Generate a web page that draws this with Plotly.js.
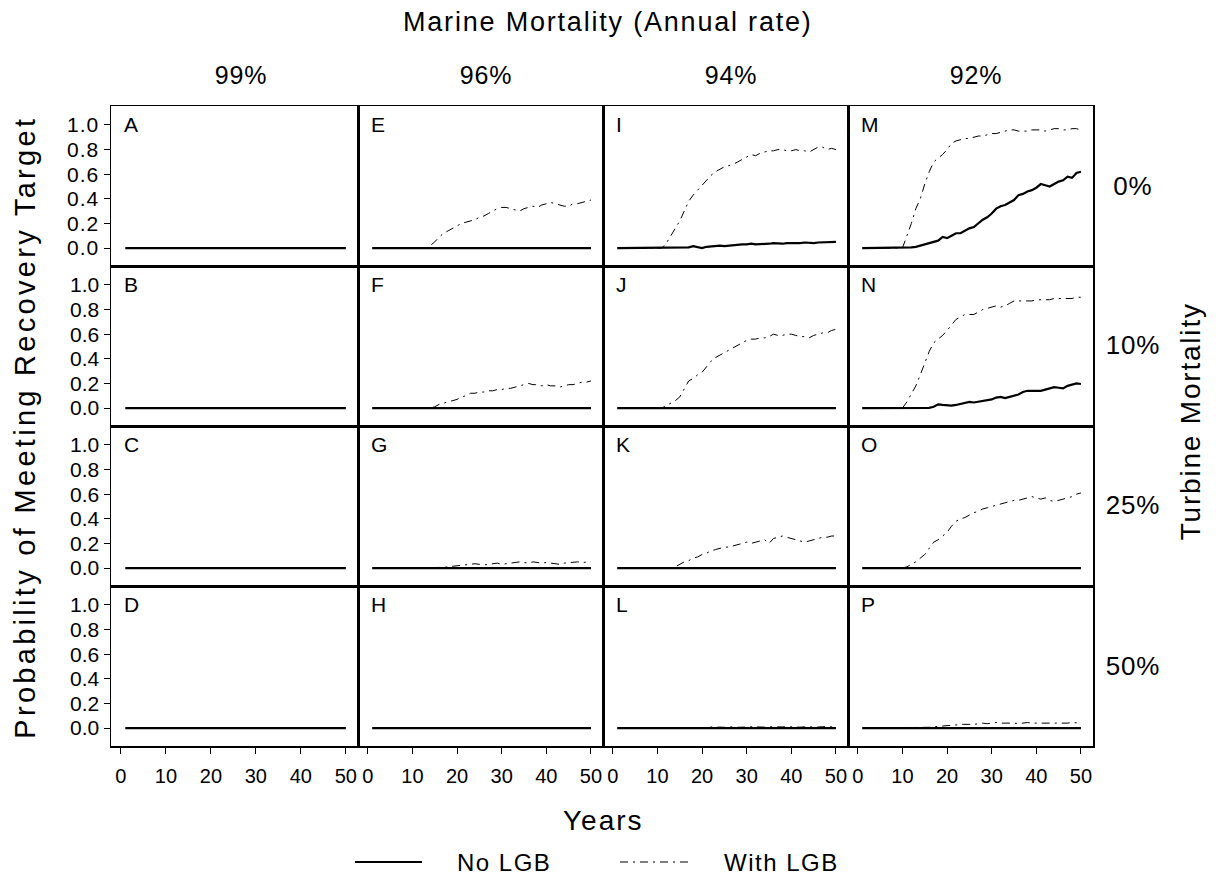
<!DOCTYPE html>
<html><head><meta charset="utf-8">
<script src="https://cdn.plot.ly/plotly-3.0.1.min.js"></script>
<style>html,body{margin:0;padding:0;background:#fff}</style>
</head><body><div id="chart" style="width:1216px;height:886px"></div>
<script>
// ---------------- DATA ----------------
const years = [1,2,3,4,5,6,7,8,9,10,11,12,13,14,15,16,17,18,19,20,21,22,23,24,25,26,27,28,29,30,31,32,33,34,35,36,37,38,39,40,41,42,43,44,45,46,47,48,49,50];
const marineRates = ["99%","96%","94%","92%"];
const turbineRates = ["0%","10%","25%","50%"];
const panelLetters = ["A","B","C","D","E","F","G","H","I","J","K","L","M","N","O","P"];
const xTickVals = [0,10,20,30,40,50];
const yTickVals = [0,0.2,0.4,0.6,0.8,1.0];
const seriesNames = ["No LGB","With LGB"];

const noLGB_A = [0,0,0,0,0,0,0,0,0,0, 0,0,0,0,0,0,0,0,0,0, 0,0,0,0,0,0,0,0,0,0, 0,0,0,0,0,0,0,0,0,0, 0,0,0,0,0,0,0,0,0,0];
const withLGB_A = [0,0,0,0,0,0,0,0,0,0, 0,0,0,0,0,0,0,0,0,0, 0,0,0,0,0,0,0,0,0,0, 0,0,0,0,0,0,0,0,0,0, 0,0,0,0,0,0,0,0,0,0];
const noLGB_B = [0,0,0,0,0,0,0,0,0,0, 0,0,0,0,0,0,0,0,0,0, 0,0,0,0,0,0,0,0,0,0, 0,0,0,0,0,0,0,0,0,0, 0,0,0,0,0,0,0,0,0,0];
const withLGB_B = [0,0,0,0,0,0,0,0,0,0, 0,0,0,0,0,0,0,0,0,0, 0,0,0,0,0,0,0,0,0,0, 0,0,0,0,0,0,0,0,0,0, 0,0,0,0,0,0,0,0,0,0];
const noLGB_C = [0,0,0,0,0,0,0,0,0,0, 0,0,0,0,0,0,0,0,0,0, 0,0,0,0,0,0,0,0,0,0, 0,0,0,0,0,0,0,0,0,0, 0,0,0,0,0,0,0,0,0,0];
const withLGB_C = [0,0,0,0,0,0,0,0,0,0, 0,0,0,0,0,0,0,0,0,0, 0,0,0,0,0,0,0,0,0,0, 0,0,0,0,0,0,0,0,0,0, 0,0,0,0,0,0,0,0,0,0];
const noLGB_D = [0,0,0,0,0,0,0,0,0,0, 0,0,0,0,0,0,0,0,0,0, 0,0,0,0,0,0,0,0,0,0, 0,0,0,0,0,0,0,0,0,0, 0,0,0,0,0,0,0,0,0,0];
const withLGB_D = [0,0,0,0,0,0,0,0,0,0, 0,0,0,0,0,0,0,0,0,0, 0,0,0,0,0,0,0,0,0,0, 0,0,0,0,0,0,0,0,0,0, 0,0,0,0,0,0,0,0,0,0];

const noLGB_E = [0,0,0,0,0,0,0,0,0,0, 0,0,0,0,0,0,0,0,0,0, 0,0,0,0,0,0,0,0,0,0, 0,0,0,0,0,0,0,0,0,0, 0,0,0,0,0,0,0,0,0,0];
const withLGB_E = [0,0,0,0,0,0,0,0,0,0, 0,0,0,0.02,0.05,0.09,0.12,0.14,0.16,0.18, 0.2,0.21,0.22,0.23,0.25,0.26,0.28,0.3,0.32,0.33, 0.33,0.32,0.31,0.3,0.32,0.33,0.34,0.33,0.35,0.36, 0.37,0.36,0.35,0.34,0.34,0.36,0.36,0.37,0.38,0.39];
const noLGB_F = [0,0,0,0,0,0,0,0,0,0, 0,0,0,0,0,0,0,0,0,0, 0,0,0,0,0,0,0,0,0,0, 0,0,0,0,0,0,0,0,0,0, 0,0,0,0,0,0,0,0,0,0];
const withLGB_F = [0,0,0,0,0,0,0,0,0,0, 0,0,0,0,0.01,0.03,0.04,0.05,0.06,0.07, 0.09,0.1,0.12,0.12,0.13,0.13,0.14,0.14,0.15,0.15, 0.16,0.16,0.17,0.18,0.19,0.2,0.19,0.19,0.18,0.19, 0.18,0.18,0.17,0.18,0.19,0.19,0.2,0.21,0.21,0.22];
const noLGB_G = [0,0,0,0,0,0,0,0,0,0, 0,0,0,0,0,0,0,0,0,0, 0,0,0,0,0,0,0,0,0,0, 0,0,0,0,0,0,0,0,0,0, 0,0,0,0,0,0,0,0,0,0];
const withLGB_G = [0,0,0,0,0,0,0,0,0,0, 0,0,0,0,0,0,0.005,0.01,0.015,0.02, 0.025,0.03,0.03,0.035,0.03,0.025,0.03,0.035,0.04,0.03, 0.035,0.04,0.045,0.05,0.045,0.04,0.05,0.045,0.04,0.045, 0.04,0.035,0.03,0.04,0.045,0.05,0.05,0.045,0.05,0.05];
const noLGB_H = [0,0,0,0,0,0,0,0,0,0, 0,0,0,0,0,0,0,0,0,0, 0,0,0,0,0,0,0,0,0,0, 0,0,0,0,0,0,0,0,0,0, 0,0,0,0,0,0,0,0,0,0];
const withLGB_H = [0,0,0,0,0,0,0,0,0,0, 0,0,0,0,0,0,0,0,0,0, 0,0,0,0,0,0,0,0,0,0, 0,0,0,0,0,0,0,0,0,0, 0,0,0,0,0,0,0,0,0,0];

const noLGB_I = [0,0,0,0,0,0,0,0,0,0, 0,0,0,0,0,0,0.005,0.015,0.01,0, 0.01,0.015,0.015,0.02,0.015,0.02,0.025,0.025,0.03,0.03, 0.035,0.03,0.03,0.035,0.035,0.04,0.035,0.035,0.04,0.04, 0.035,0.04,0.045,0.04,0.04,0.045,0.045,0.05,0.05,0.05];
const withLGB_I = [0,0,0,0,0,0,0,0,0,0, 0,0.04,0.1,0.16,0.22,0.3,0.38,0.43,0.47,0.51, 0.55,0.59,0.62,0.64,0.66,0.67,0.68,0.7,0.72,0.74, 0.76,0.75,0.77,0.78,0.79,0.79,0.8,0.8,0.79,0.79, 0.8,0.79,0.79,0.78,0.8,0.82,0.82,0.8,0.81,0.8];
const noLGB_J = [0,0,0,0,0,0,0,0,0,0, 0,0,0,0,0,0,0,0,0,0, 0.004,0.005,0.003,0,0.004,0.005,0.003,0,0,0, 0,0,0,0,0,0,0,0,0,0, 0,0,0,0,0,0,0,0,0,0];
const withLGB_J = [0,0,0,0,0,0,0,0,0,0, 0,0.02,0.04,0.06,0.09,0.15,0.22,0.24,0.27,0.29, 0.34,0.38,0.41,0.43,0.45,0.47,0.49,0.51,0.53,0.55, 0.56,0.56,0.57,0.57,0.58,0.6,0.59,0.59,0.6,0.6, 0.59,0.58,0.58,0.57,0.59,0.6,0.61,0.61,0.63,0.64];
const noLGB_K = [0,0,0,0,0,0,0,0,0,0, 0,0,0,0,0,0,0,0,0,0, 0,0,0,0,0,0,0,0,0,0, 0,0,0,0,0,0,0,0,0,0, 0,0,0,0,0,0,0,0,0,0];
const withLGB_K = [0,0,0,0,0,0,0,0,0,0, 0,0,0,0.01,0.03,0.05,0.06,0.08,0.09,0.11, 0.12,0.14,0.15,0.16,0.17,0.17,0.18,0.19,0.2,0.21, 0.2,0.21,0.22,0.23,0.2,0.24,0.25,0.26,0.25,0.24, 0.23,0.22,0.21,0.22,0.23,0.24,0.25,0.25,0.26,0.26];
const noLGB_L = [0,0,0,0,0,0,0,0,0,0, 0,0,0,0,0,0,0,0,0,0, 0,0,0,0,0,0,0,0,0,0, 0,0,0,0,0,0,0,0,0,0, 0,0,0,0,0,0,0,0,0,0];
const withLGB_L = [0,0,0,0,0,0,0,0,0,0, 0,0,0,0,0,0,0,0,0,0, 0.004,0.008,0.01,0.007,0.006,0.009,0.01,0.006,0.005,0.008, 0.011,0.009,0.006,0.007,0.01,0.008,0.005,0.009,0.011,0.008, 0.006,0.007,0.01,0.009,0.006,0.008,0.011,0.009,0.01,0.009];

const noLGB_M = [0,0,0,0,0,0,0,0,0,0, 0.002,0.005,0.01,0.02,0.025,0.035,0.045,0.06,0.09,0.08, 0.1,0.12,0.12,0.14,0.16,0.17,0.2,0.23,0.25,0.28, 0.32,0.34,0.35,0.37,0.39,0.43,0.44,0.46,0.47,0.49, 0.52,0.51,0.5,0.52,0.54,0.55,0.58,0.57,0.61,0.62];
const withLGB_M = [0,0,0,0,0,0,0,0,0,0, 0.1,0.2,0.32,0.4,0.52,0.62,0.7,0.73,0.76,0.8, 0.85,0.87,0.88,0.89,0.89,0.9,0.91,0.91,0.92,0.93, 0.93,0.94,0.95,0.96,0.96,0.95,0.95,0.95,0.96,0.96, 0.96,0.95,0.96,0.97,0.97,0.96,0.96,0.97,0.97,0.96];
const noLGB_N = [0,0,0,0,0,0,0,0,0,0, 0,0,0,0,0,0.002,0.01,0.03,0.025,0.02, 0.02,0.025,0.035,0.045,0.05,0.045,0.05,0.06,0.065,0.07, 0.085,0.09,0.08,0.09,0.095,0.11,0.13,0.14,0.14,0.14, 0.14,0.15,0.16,0.17,0.165,0.16,0.18,0.19,0.2,0.195];
const withLGB_N = [0,0,0,0,0,0,0,0,0,0, 0.05,0.11,0.18,0.27,0.36,0.46,0.53,0.56,0.59,0.63, 0.68,0.72,0.74,0.76,0.76,0.76,0.78,0.8,0.81,0.82, 0.83,0.82,0.83,0.85,0.87,0.87,0.87,0.87,0.87,0.88, 0.88,0.88,0.88,0.89,0.89,0.89,0.89,0.89,0.9,0.9];
const noLGB_O = [0,0,0,0,0,0,0,0,0,0, 0,0,0,0,0,0,0,0,0,0, 0.003,0.006,0.004,0,0,0,0.004,0.006,0.005,0.002, 0,0.004,0.005,0.003,0,0,0,0,0,0, 0,0,0,0,0,0,0,0,0,0];
const withLGB_O = [0,0,0,0,0,0,0,0,0,0, 0.01,0.03,0.05,0.08,0.11,0.16,0.21,0.23,0.26,0.29, 0.34,0.38,0.4,0.41,0.43,0.45,0.46,0.48,0.49,0.5, 0.51,0.52,0.53,0.54,0.55,0.55,0.56,0.57,0.58,0.57, 0.56,0.57,0.55,0.54,0.55,0.56,0.57,0.58,0.6,0.61];
const noLGB_P = [0,0,0,0,0,0,0,0,0,0, 0,0,0,0,0,0,0,0,0,0, 0,0,0,0,0,0,0,0,0,0, 0,0,0,0,0,0,0,0,0,0, 0,0,0,0,0,0,0,0,0,0];
const withLGB_P = [0,0,0,0,0,0,0,0,0,0, 0,0,0,0,0.003,0.006,0.01,0.012,0.015,0.02, 0.02,0.025,0.03,0.03,0.025,0.03,0.035,0.04,0.035,0.04, 0.045,0.04,0.04,0.045,0.04,0.035,0.04,0.045,0.04,0.04, 0.035,0.035,0.04,0.035,0.035,0.04,0.04,0.045,0.04,0.04];

const noLGB = [noLGB_A,noLGB_B,noLGB_C,noLGB_D,noLGB_E,noLGB_F,noLGB_G,noLGB_H,noLGB_I,noLGB_J,noLGB_K,noLGB_L,noLGB_M,noLGB_N,noLGB_O,noLGB_P];
const withLGB = [withLGB_A,withLGB_B,withLGB_C,withLGB_D,withLGB_E,withLGB_F,withLGB_G,withLGB_H,withLGB_I,withLGB_J,withLGB_K,withLGB_L,withLGB_M,withLGB_N,withLGB_O,withLGB_P];

// ---------------- LAYOUT ----------------
const W = 1216, H = 886;
const FONT = "Liberation Sans, Arial, sans-serif";
const colPx = [[111,358],[358,603],[603,848],[848,1093]];
const rowPx = [[106,266],[266,426],[426,586],[586,746]];
const px = v => v / W;
const py = v => 1 - v / H;

const traces = [];
const layout = {
  width: W, height: H,
  margin: {l:0, r:0, t:0, b:0},
  paper_bgcolor: "#fff", plot_bgcolor: "#fff",
  showlegend: false,
  font: {family: FONT, color: "#000"},
  annotations: [], shapes: []
};
const spacing = [];
const dashStyle = "8px,5px,2px,5px";

for (let k = 0; k < 16; k++) {
  const col = Math.floor(k / 4), row = k % 4;
  const n = k + 1;
  const xa = "x" + (n === 1 ? "" : n), ya = "y" + (n === 1 ? "" : n);
  traces.push({x: years, y: withLGB[k], xaxis: xa, yaxis: ya, type: "scatter", mode: "lines",
    name: seriesNames[1], line: {color: "#000", width: 1, dash: dashStyle}, hoverinfo: "skip"});
  traces.push({x: years, y: noLGB[k], xaxis: xa, yaxis: ya, type: "scatter", mode: "lines",
    name: seriesNames[0], line: {color: "#000", width: 2.2}, hoverinfo: "skip"});
  const bottom = row === 3, left = col === 0;
  layout["xaxis" + (n === 1 ? "" : n)] = {
    domain: [px(colPx[col][0]), px(colPx[col][1])], anchor: ya,
    range: [-2.2, 52.7], showgrid: false, zeroline: false,
    showline: true, mirror: true, linecolor: "#000", linewidth: 1.5,
    tickvals: xTickVals, ticks: bottom ? "outside" : "", ticklen: 6, tickwidth: 1, tickcolor: "#000",
    ticklabelstandoff: 5,
    showticklabels: bottom, tickfont: {size: 20, family: FONT, color: "#000"}, fixedrange: true
  };
  layout["yaxis" + (n === 1 ? "" : n)] = {
    domain: [py(rowPx[row][1]), py(rowPx[row][0])], anchor: xa,
    range: [-0.146, 1.154], showgrid: false, zeroline: false,
    showline: true, mirror: true, linecolor: "#000", linewidth: 1.5,
    tickvals: yTickVals, tickformat: ".1f", ticks: left ? "outside" : "", ticklen: 6, tickwidth: 1, tickcolor: "#000",
    showticklabels: left, tickfont: {size: 21, family: FONT, color: "#000"}, fixedrange: true
  };
  layout.annotations.push({text: panelLetters[k], xref: "paper", yref: "paper",
    x: px(colPx[col][0] + 11), y: py(rowPx[row][0] + 5), xanchor: "left", yanchor: "top",
    showarrow: false, font: {size: 21, family: FONT}});
  spacing.push(0);
}

function txt(t, x, y, size, angle, ls, anchor) {
  layout.annotations.push({text: t, xref: "paper", yref: "paper", x: px(x), y: py(y),
    xanchor: anchor || "center", yanchor: "middle", align: anchor || "center", showarrow: false, textangle: angle || 0,
    font: {size: size, family: FONT, color: "#000"}});
  spacing.push(ls || 0);
}
txt("Marine Mortality (Annual rate)", 608, 22, 27, 0, 1.8);
const colCenters = [241, 486, 731, 976];
marineRates.forEach((t, i) => txt(t, colCenters[i], 75, 25, 0, 0.8));
const rowCenters = [186, 345, 505, 666];
turbineRates.forEach((t, i) => txt(t, 1133, rowCenters[i], 26, 0, 0.8));
txt("Turbine Mortality", 1190, 422, 28, -90, 1.8);
txt("Probability of Meeting Recovery Target", 25, 427, 29, -90, 3.3);
txt("Years", 603, 820, 28, 0, 2);

// legend (manual)
layout.shapes.push({type: "line", xref: "paper", yref: "paper", x0: px(355), x1: px(422), y0: py(862), y1: py(862),
  line: {color: "#000", width: 2}});
layout.shapes.push({type: "line", xref: "paper", yref: "paper", x0: px(620), x1: px(690), y0: py(862), y1: py(862),
  line: {color: "#000", width: 1, dash: dashStyle}});
txt(seriesNames[0], 455, 862, 24, 0, 1.5, "left");
txt(seriesNames[1], 722, 862, 24, 0, 1.5, "left");

Plotly.newPlot("chart", traces, layout, {displayModeBar: false, staticPlot: true}).then(gd => {
  gd.querySelectorAll("g.annotation").forEach(g => {
    const i = +g.getAttribute("data-index");
    const t = g.querySelector("text");
    if (t && spacing[i]) t.style.letterSpacing = spacing[i] + "px";
  });
  gd.querySelectorAll(".ytick text").forEach(t => { t.style.letterSpacing = "1px"; });
});
</script></body></html>
